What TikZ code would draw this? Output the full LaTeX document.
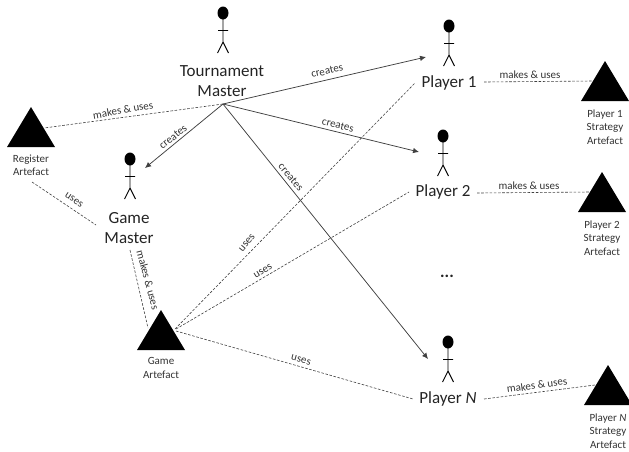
\documentclass[tikz,border=0pt]{standalone}
\usepackage{fontspec}
\setmainfont{Carlito}
\usetikzlibrary{arrows.meta}
\definecolor{txt}{HTML}{333333}
\definecolor{lin}{HTML}{404040}
\tikzset{
  big/.style={font=\fontsize{17}{19.5}\selectfont,align=center,text=txt!70!black,inner sep=0pt},
  small/.style={font=\fontsize{11}{13.5}\selectfont,align=center,text=txt,inner sep=0pt},
  lab/.style={font=\fontsize{11}{12}\selectfont,text=txt,inner sep=0pt},
  usesline/.style={draw=lin,line width=0.6pt,dash pattern=on 2.6pt off 1.6pt},
  makeline/.style={draw=lin,line width=0.75pt,-{Latex[length=6pt,width=5.5pt]}},
  person/.pic={
    \fill (0,0) ellipse [x radius=5.5,y radius=6.5];
    \draw[line width=0.9pt] (0,0) -- (0,29) (-5,17.5) -- (5,17.5) (-5.5,40) -- (0,29) -- (5.5,40);
  },
  artefact/.pic={
    \fill (0,0) -- (24,40) -- (-24,40) -- cycle;
  }
}
\begin{document}
\begin{tikzpicture}[x=1pt,y=-1pt]
\useasboundingbox (0,0) rectangle (629,451);
\clip (0,0) rectangle (629,451);
% people
\pic at (223,13) {person};
\pic at (130,159) {person};
\pic at (449,26) {person};
\pic at (443,136) {person};
\pic at (448,342) {person};
% artefacts
\pic at (31,107) {artefact};
\pic at (161,310) {artefact};
\pic at (605,61) {artefact};
\pic at (602,172) {artefact};
\pic at (608,365) {artefact};
% text nodes
\node[big] (tmname) at (222,81) {Tournament\\Master};
\node[big] (gmname) at (129,228) {Game\\Master};
\node[big] (p1name) at (449,83) {Player 1};
\node[big] (p2name) at (443,192) {Player 2};
\node[big] (pnname) at (448,399) {Player \textit{N}};
\node[big] (dots) at (447,276) {\textbf{...}};
\node[small] (regname) at (31,165) {Register\\Artefact};
\node[small] (ganame) at (161,368) {Game\\Artefact};
\node[small] (s1name) at (605,127) {Player 1\\Strategy\\Artefact};
\node[small] (s2name) at (602,238) {Player 2\\Strategy\\Artefact};
\node[small] (snname) at (608,431) {Player \textit{N}\\Strategy\\Artefact};
% connector ends
\coordinate (hub) at (223,104);
\coordinate (gmin) at (145,168);
\coordinate (p1in) at (426,57);
\coordinate (p2in) at (419,152);
\coordinate (pnin) at (428,359);
\coordinate (regout) at (44,128);
\coordinate (regdown) at (32,182);
\coordinate (gmleft) at (96,225);
\coordinate (gmdown) at (130,250);
\coordinate (gatop) at (148,328);
\coordinate (gap1) at (175,329);
\coordinate (gap2) at (176,329);
\coordinate (gapn) at (176,331);
\coordinate (p1left) at (415,83);
\coordinate (p2left) at (409,192);
\coordinate (pnleft) at (413,399);
\coordinate (p1right) at (484,82);
\coordinate (s1in) at (592,81);
\coordinate (p2right) at (477,193);
\coordinate (s2in) at (590,192);
\coordinate (pnright) at (484,399);
\coordinate (snin) at (595,385);
% creates
\draw[makeline] (hub) -- (gmin);
\draw[makeline] (hub) -- (p1in);
\draw[makeline] (hub) -- (p2in);
\draw[makeline] (hub) -- (pnin);
% uses
\draw[usesline] (hub) -- (regout);
\draw[usesline] (regdown) -- (gmleft);
\draw[usesline] (gmdown) -- (gatop);
\draw[usesline] (gap1) -- (p1left);
\draw[usesline] (gap2) -- (p2left);
\draw[usesline] (gapn) -- (pnleft);
\draw[usesline] (p1right) -- (s1in);
\draw[usesline] (p2right) -- (s2in);
\draw[usesline] (pnright) -- (snin);
% labels
\node[lab,rotate=10] (l1) at (123,110) {makes \& uses};
\node[lab,rotate=39] (l2) at (173,137) {creates};
\node[lab,rotate=13] (l3) at (327,71) {creates};
\node[lab,rotate=-14] (l4) at (338,125) {creates};
\node[lab,rotate=-50] (l5) at (291,177) {creates};
\node[lab,rotate=-34] (l6) at (74,200) {uses};
\node[lab,rotate=-75] (l7) at (148,280) {makes \& uses};
\node[lab,rotate=50] (l8) at (247,243) {uses};
\node[lab,rotate=32] (l9) at (263,271) {uses};
\node[lab,rotate=-15] (l10) at (301,360) {uses};
\node[lab] (l11) at (530,75) {makes \& uses};
\node[lab] (l12) at (529,186) {makes \& uses};
\node[lab,rotate=8] (l13) at (537,385) {makes \& uses};
\end{tikzpicture}
\end{document}
